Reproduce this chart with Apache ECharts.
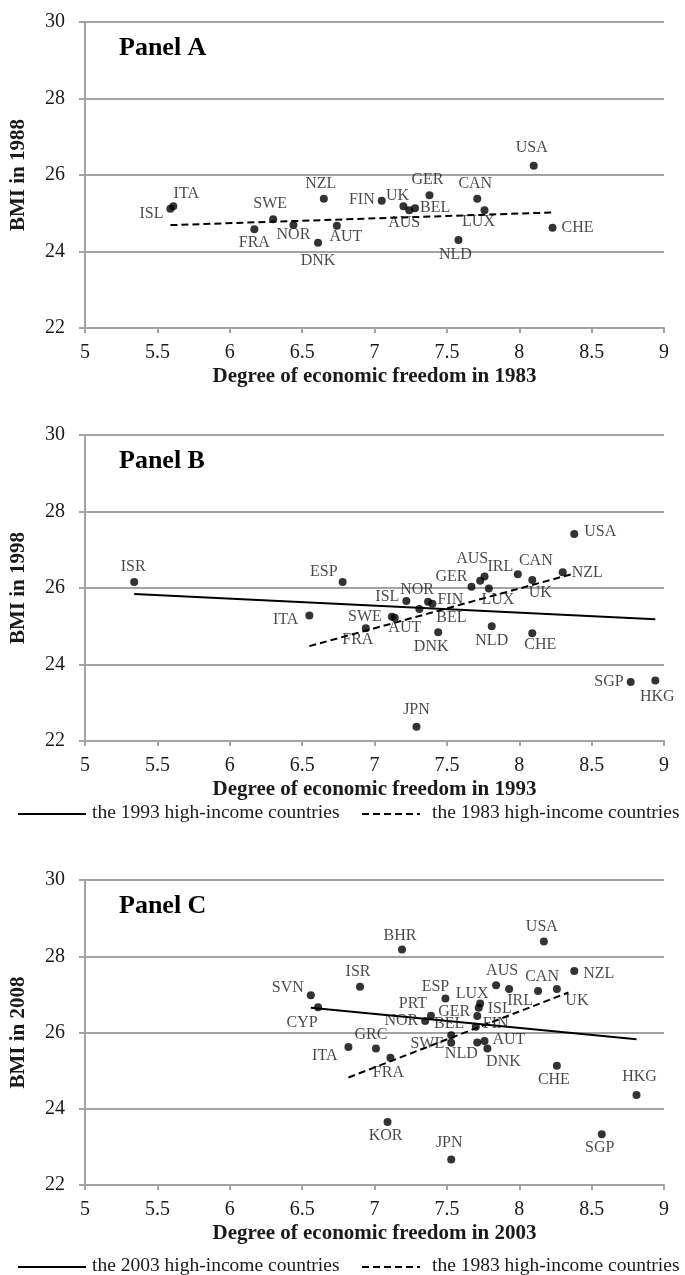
<!DOCTYPE html>
<html>
<head>
<meta charset="utf-8">
<script src="https://cdn.jsdelivr.net/npm/echarts@6/dist/echarts.min.js"></script>
<style>
  html, body { margin: 0; padding: 0; background: #fff; }
  #chart { width: 685px; height: 1275px; }
</style>
</head>
<body>
<div id="chart"></div>
<script>
// ---- Panel A: BMI in 1988 vs economic freedom in 1983 ----
const namesA = ['ISL','ITA','SWE','FRA','NOR','NZL','DNK','AUT','FIN','UK','AUS','BEL','GER','CAN','LUX','NLD','USA','CHE'];
const freedomA = [5.59,5.61,6.30,6.17,6.44,6.65,6.61,6.74,7.05,7.20,7.24,7.28,7.38,7.71,7.76,7.58,8.10,8.23];
const bmiA     = [25.12,25.18,24.84,24.58,24.69,25.38,24.23,24.67,25.33,25.18,25.08,25.13,25.47,25.38,25.08,24.30,26.24,24.62];
const fit1983A = [[5.59,24.69],[8.23,25.02]];

// ---- Panel B: BMI in 1998 vs economic freedom in 1993 ----
const namesB = ['ISR','ESP','ITA','FRA','SWE','AUT','ISL','NOR','FIN','BEL','GER','AUS','IRL','LUX','CAN','UK','NZL','USA','DNK','NLD','CHE','JPN','SGP','HKG'];
const freedomB = [5.34,6.78,6.55,6.94,7.12,7.14,7.22,7.37,7.40,7.31,7.67,7.73,7.76,7.79,7.99,8.09,8.30,8.38,7.44,7.81,8.09,7.29,8.77,8.94];
const bmiB     = [26.16,26.16,25.28,24.95,25.25,25.22,25.66,25.64,25.59,25.45,26.03,26.19,26.30,25.99,26.36,26.21,26.41,27.41,24.84,25.00,24.82,22.37,23.54,23.58];
const fit1993B = [[5.34,25.84],[8.94,25.18]];
const fit1983B = [[6.55,24.48],[8.37,26.37]];

// ---- Panel C: BMI in 2008 vs economic freedom in 2003 ----
const namesC = ['USA','BHR','NZL','ISR','AUS','IRL','CAN','UK','SVN','CYP','ESP','LUX','ISL','GER','FIN','PRT','NOR','BEL','SWE','NLD','AUT','DNK','GRC','ITA','FRA','CHE','HKG','KOR','JPN','SGP'];
const freedomC = [8.17,7.19,8.38,6.90,7.84,7.93,8.13,8.26,6.56,6.61,7.49,7.73,7.72,7.71,7.70,7.39,7.35,7.53,7.53,7.71,7.76,7.78,7.01,6.82,7.11,8.26,8.81,7.09,7.53,8.57];
const bmiC     = [28.39,28.18,27.61,27.20,27.24,27.14,27.09,27.14,26.98,26.66,26.89,26.76,26.65,26.43,26.15,26.44,26.30,25.93,25.73,25.74,25.78,25.58,25.58,25.62,25.34,25.13,24.36,23.65,22.67,23.33];
const fit2003C = [[6.56,26.65],[8.81,25.82]];
const fit1983C = [[6.82,24.82],[8.34,27.05]];

const xTicks = { min: 5, max: 9, interval: 0.5 };
const yTicks = { min: 22, max: 30, interval: 2 };

// label placement for each country: [position, dx, dy]
const placeA = {
  ISL:['left',0,5], ITA:['top',13,2], SWE:['top',-3,-1], FRA:['bottom',0,-2], NOR:['bottom',0,-5],
  NZL:['top',-3,0], FIN:['left',0,-1], DNK:['bottom',0,3], AUT:['bottom',9,-4], UK:['top',-6,4],
  AUS:['bottom',-5,-2], BEL:['right',-2,0], GER:['top',-2,0], CAN:['top',-2,0], LUX:['bottom',-6,-3],
  NLD:['bottom',-3,0], USA:['top',-2,-3], CHE:['right',2,0]
};
const placeB = {
  ISR:['top',-1,0], ESP:['left',2,-10], ITA:['left',-4,4], FRA:['bottom',-8,-3], SWE:['left',-3,0],
  AUT:['bottom',10,-5], ISL:['left',0,-4], NOR:['top',-11,3], FIN:['right',-2,-4], BEL:['right',10,9],
  GER:['left',3,-10], AUS:['top',-8,-7], IRL:['right',-4,-10], LUX:['bottom',9,-4], CAN:['top',18,2],
  UK:['bottom',8,-2], NZL:['right',2,0], USA:['right',3,-2], DNK:['bottom',-7,-1], NLD:['bottom',0,0],
  CHE:['bottom',8,-3], JPN:['top',0,-2], SGP:['left',0,0], HKG:['bottom',2,1]
};
const placeC = {
  USA:['top',-2,0], BHR:['top',-2,1], NZL:['right',2,3], ISR:['top',-2,0], AUS:['top',6,1],
  IRL:['bottom',11,-3], CAN:['top',4,1], UK:['bottom',20,-3], SVN:['left',0,-7], CYP:['bottom',-16,0],
  ESP:['top',-10,3], LUX:['top',-8,5], ISL:['right',2,1], GER:['left',0,-4], FIN:['right',0,-3],
  PRT:['top',-18,3], NOR:['left',0,0], BEL:['top',-2,4], SWE:['left',0,1], NLD:['bottom',-16,-4],
  AUT:['right',1,-1], DNK:['bottom',16,-2], GRC:['top',-5,1], ITA:['left',-4,9], FRA:['bottom',-2,0],
  CHE:['bottom',-3,-1], HKG:['top',3,-3], KOR:['bottom',-2,-1], JPN:['top',-2,-2], SGP:['bottom',-2,-1]
};

const SERIF = '"Liberation Serif", "Times New Roman", serif';
const GRID_COLOR = '#a3a3a3';
const INK = '#1a1a1a';

function points(names, xs, ys, place) {
  return names.map((n, i) => {
    const p = place[n] || ['top', 0, 0];
    return { name: n, value: [xs[i], ys[i]], label: { position: p[0], offset: [p[1], p[2]] } };
  });
}

const grids = [
  { left: 85, top: 22, width: 579, height: 306 },
  { left: 85, top: 435, width: 579, height: 306 },
  { left: 85, top: 880, width: 579, height: 305 }
];
const xNames = ['Degree of economic freedom in 1983', 'Degree of economic freedom in 1993', 'Degree of economic freedom in 2003'];
const yNames = ['BMI in 1988', 'BMI in 1998', 'BMI in 2008'];

const xAxes = grids.map((g, i) => ({
  type: 'value', gridIndex: i, min: xTicks.min, max: xTicks.max, interval: xTicks.interval,
  name: xNames[i], nameLocation: 'middle', nameGap: 38,
  nameTextStyle: { fontFamily: SERIF, fontWeight: 'bold', fontSize: 21, color: INK },
  axisLine: { show: true, onZero: false, lineStyle: { color: GRID_COLOR, width: 2 } },
  axisTick: { show: true, length: 5, lineStyle: { color: GRID_COLOR, width: 2 } },
  axisLabel: { fontFamily: SERIF, fontSize: 20, color: INK, margin: 15 },
  splitLine: { show: false }
}));
const yAxes = grids.map((g, i) => ({
  type: 'value', gridIndex: i, min: yTicks.min, max: yTicks.max, interval: yTicks.interval,
  name: yNames[i], nameLocation: 'middle', nameGap: 56, nameRotate: 90,
  nameTextStyle: { fontFamily: SERIF, fontWeight: 'bold', fontSize: 21, color: INK },
  axisLine: { show: true, lineStyle: { color: GRID_COLOR, width: 2 } },
  axisTick: { show: true, length: 6, lineStyle: { color: GRID_COLOR, width: 2 } },
  axisLabel: { fontFamily: SERIF, fontSize: 20, color: INK, margin: 20 },
  splitLine: { show: true, lineStyle: { color: GRID_COLOR, width: 2 } }
}));

function scatter(idx, data) {
  return {
    type: 'scatter', xAxisIndex: idx, yAxisIndex: idx, data: data,
    symbol: 'circle', symbolSize: 8, itemStyle: { color: '#000' },
    label: { show: true, formatter: '{b}', fontFamily: SERIF, fontSize: 16, color: INK, distance: 3 },
    z: 5
  };
}
function fitLine(idx, data, dashed) {
  return {
    type: 'line', xAxisIndex: idx, yAxisIndex: idx, data: data, symbol: 'none',
    lineStyle: { color: '#000', width: 2, type: dashed ? [7, 4] : 'solid' },
    z: 3, silent: true
  };
}

const series = [
  fitLine(0, fit1983A, true),
  scatter(0, points(namesA, freedomA, bmiA, placeA)),
  fitLine(1, fit1993B, false),
  fitLine(1, fit1983B, true),
  scatter(1, points(namesB, freedomB, bmiB, placeB)),
  fitLine(2, fit2003C, false),
  fitLine(2, fit1983C, true),
  scatter(2, points(namesC, freedomC, bmiC, placeC))
];

const panelTitles = ['Panel A', 'Panel B', 'Panel C'];
const titles = panelTitles.map((t, i) => ({
  text: t, left: 114, top: grids[i].top + 8,
  textStyle: { fontFamily: SERIF, fontWeight: 'bold', fontSize: 26, color: '#000' }
}));

// legend rows under panels B and C
function legendRow(y, solidText, dashedText) {
  return [
    { type: 'line', shape: { x1: 18, y1: y, x2: 86, y2: y }, style: { stroke: '#000', lineWidth: 2 } },
    { type: 'text', left: 92, top: y - 11, style: { text: solidText, font: '19.5px ' + SERIF, fill: INK } },
    { type: 'line', shape: { x1: 362, y1: y, x2: 420, y2: y }, style: { stroke: '#000', lineWidth: 2, lineDash: [7, 4] } },
    { type: 'text', left: 432, top: y - 11, style: { text: dashedText, font: '19.5px ' + SERIF, fill: INK } }
  ];
}
const graphic = [].concat(
  legendRow(814, 'the 1993 high-income countries', 'the 1983 high-income countries'),
  legendRow(1267, 'the 2003 high-income countries', 'the 1983 high-income countries')
);

const chart = echarts.init(document.getElementById('chart'), null, { renderer: 'canvas' });
chart.setOption({
  animation: false,
  backgroundColor: '#fff',
  title: titles,
  grid: grids,
  xAxis: xAxes,
  yAxis: yAxes,
  series: series,
  graphic: graphic
});
</script>
</body>
</html>
